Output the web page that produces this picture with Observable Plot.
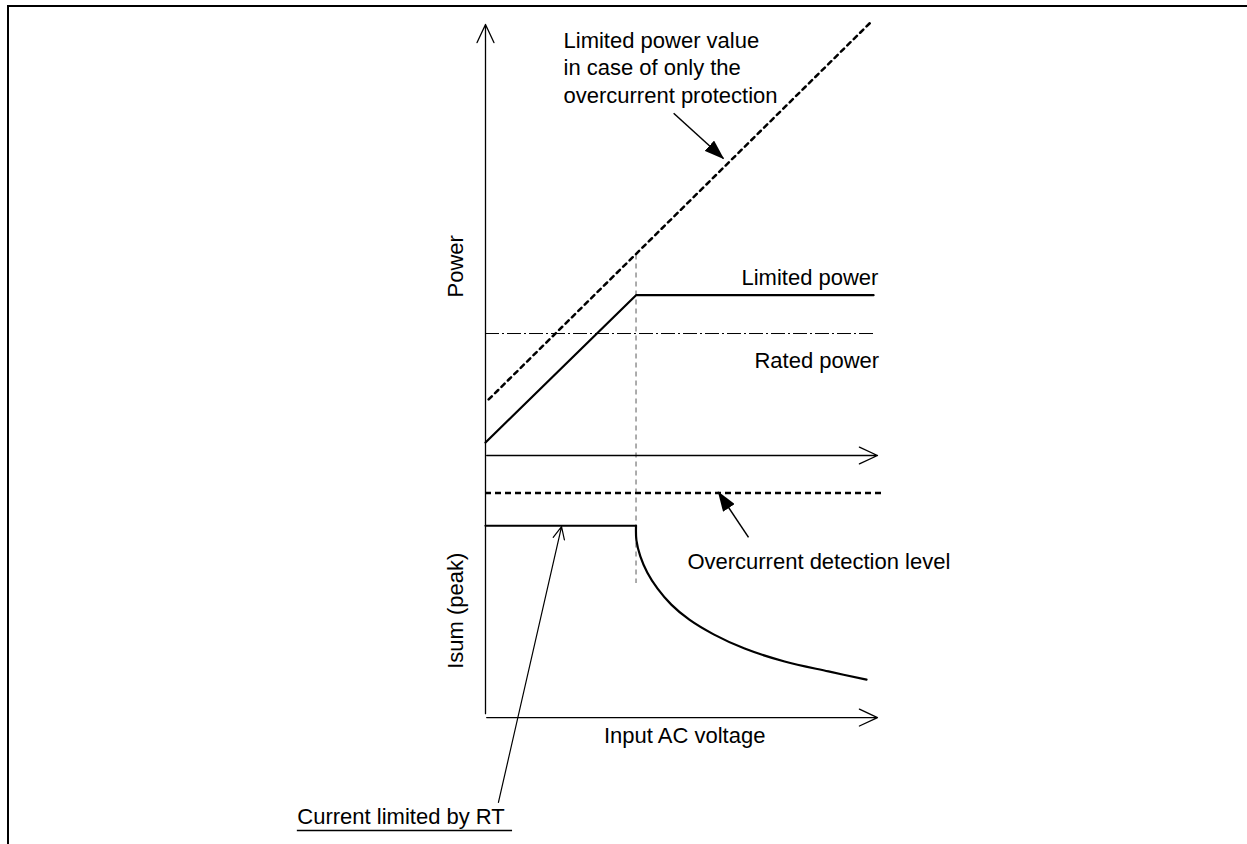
<!DOCTYPE html>
<html><head><meta charset="utf-8">
<script src="https://cdn.jsdelivr.net/npm/d3@7"></script>
<script src="https://cdn.jsdelivr.net/npm/@observablehq/plot@0.6"></script>
<style>
html,body{margin:0;padding:0;background:#fff;}
#wrap{position:relative;width:1247px;height:844px;overflow:hidden;background:#fff;}
#wrap svg{position:absolute;left:0;top:0;}
#frame{position:absolute;left:7px;top:5px;right:-10px;bottom:-10px;border-top:2px solid #000;border-left:2px solid #000;pointer-events:none;}
</style></head><body><div id="wrap"><div id="frame"></div></div>
<script>
// ---- data (schematic units: input voltage 0..100, power 0..100, Isum 0..) ----
const kneeVoltage = 38.4;
const limitedPower = [{v:0, p:3.0}, {v:38.4, p:37.2}, {v:99.0, p:37.2}];
const ratedPower = 28.3;
const ratedSpan = [0, 99.0];
const ocpOnlyPower = [{v:0.8, p:13.0}, {v:98.7, p:100.9}];
const isumFlat = [{v:0, i:44.5}, {v:38.4, i:44.5}];
const isumCurve = [
  {v:38.4, i:44.5}, {v:38.5, i:41.1}, {v:39.5, i:37.4}, {v:41.3, i:33.6},
  {v:43.9, i:29.9}, {v:47.4, i:26.2}, {v:52.0, i:22.7}, {v:58.2, i:19.3},
  {v:66.1, i:16.0}, {v:76.3, i:13.0}, {v:87.5, i:10.7}, {v:97.2, i:8.8}
];
const detectionLevel = 52.1;
const detectionSpan = [0, 101.3];
const kneeGuide = [46.5, -29.7];
const isumBase = -60.8; // Isum origin expressed on the power axis

const axesArrows = [
  {x1:0, y1:isumBase + 0.9, x2:0, y2:100},
  {x1:0.3, y1:0, x2:100, y2:0},
  {x1:0.3, y1:isumBase, x2:100, y2:isumBase}
];
const pointerArrows = [
  {x1:48.0, y1:79.4, x2:60.7, y2:68.9},
  {x1:67.1, y1:isumBase + 41.8, x2:59.4, y2:isumBase + 52.3}
];
const openPointer = [{x1:3.3, y1:isumBase - 19.7, x2:19.4, y2:isumBase + 44.3}];

const startLabels = [
  {text:"Limited power value\nin case of only the\novercurrent protection", v:19.9, p:90.3},
  {text:"Limited power", v:65.3, p:41.5},
  {text:"Rated power", v:68.6, p:22.4},
  {text:"Overcurrent detection level", v:51.5, p:isumBase + 36.5},
  {text:"Current limited by RT", v:-48.0, p:isumBase - 22.7}
];
const middleLabels = [{text:"Input AC voltage", v:50.8, p:isumBase - 4.2}];
const axisTitles = [
  {text:"Power", v:-7.65, p:43.9},
  {text:"Isum (peak)", v:-7.65, p:isumBase + 24.8}
];
const underline = {p:isumBase - 26.2, from:-48.0, to:6.9};

const font = "Liberation Sans, Arial, Helvetica, sans-serif";
const fs = 22;

const svg = Plot.plot({
  width:1247, height:844, margin:0,
  x:{domain:[0,100], range:[485,877], axis:null},
  y:{domain:[0,100], range:[455,24], axis:null},
  style:{background:"transparent", overflow:"visible"},
  marks:[
    Plot.ruleX([kneeVoltage], {y1:kneeGuide[0], y2:kneeGuide[1], stroke:"#808080", strokeWidth:1.3, strokeDasharray:"5,4"}),
    Plot.ruleY([ratedPower], {x1:ratedSpan[0], x2:ratedSpan[1], stroke:"#000", strokeWidth:1, strokeDasharray:"14,3,2,3"}),
    Plot.ruleY([isumBase + detectionLevel], {x1:detectionSpan[0], x2:detectionSpan[1], stroke:"#000", strokeWidth:2.5, strokeDasharray:"6,4"}),
    Plot.line(ocpOnlyPower, {x:"v", y:"p", stroke:"#000", strokeWidth:2.5, strokeDasharray:"4.5,4.5"}),
    Plot.line(limitedPower, {x:"v", y:"p", stroke:"#000", strokeWidth:2.2, strokeLinejoin:"miter"}),
    Plot.line(isumFlat.map(d => ({v:d.v, p:isumBase + d.i})), {x:"v", y:"p", stroke:"#000", strokeWidth:2.2}),
    Plot.line(isumCurve.map(d => ({v:d.v, p:isumBase + d.i})), {x:"v", y:"p", stroke:"#000", strokeWidth:2.2, curve:"catmull-rom"}),
    Plot.arrow(axesArrows, {x1:"x1", y1:"y1", x2:"x2", y2:"y2", stroke:"#000", strokeWidth:1.3, headAngle:50, headLength:23}),
    Plot.arrow(openPointer, {x1:"x1", y1:"y1", x2:"x2", y2:"y2", stroke:"#000", strokeWidth:1.2, headAngle:50, headLength:17}),
    Plot.link(pointerArrows, {x1:"x1", y1:"y1", x2:"x2", y2:"y2", stroke:"#010101", strokeWidth:1.5}),
    Plot.ruleY([underline.p], {x1:underline.from, x2:underline.to, stroke:"#000", strokeWidth:1.5}),
    Plot.text(startLabels, {x:"v", y:"p", text:"text", textAnchor:"start", lineAnchor:"middle", lineHeight:1.25, fontSize:fs, fontFamily:font, fill:"#000"}),
    Plot.text(middleLabels, {x:"v", y:"p", text:"text", textAnchor:"middle", fontSize:fs, fontFamily:font, fill:"#000"}),
    Plot.text(axisTitles, {x:"v", y:"p", text:"text", rotate:-90, textAnchor:"middle", fontSize:fs, fontFamily:font, fill:"#000"})
  ]
});

const ns = "http://www.w3.org/2000/svg";
const defs = document.createElementNS(ns, "defs");
const marker = document.createElementNS(ns, "marker");
marker.setAttribute("id", "fa");
marker.setAttribute("viewBox", "0 0 20 14");
marker.setAttribute("refX", "19");
marker.setAttribute("refY", "7");
marker.setAttribute("markerWidth", "20");
marker.setAttribute("markerHeight", "14");
marker.setAttribute("markerUnits", "userSpaceOnUse");
marker.setAttribute("orient", "auto");
const mp = document.createElementNS(ns, "path");
mp.setAttribute("d", "M0,0L20,7L0,14Z");
mp.setAttribute("fill", "#000");
marker.appendChild(mp);
defs.appendChild(marker);
svg.insertBefore(defs, svg.firstChild);
svg.querySelectorAll('[stroke="#010101"]').forEach(el => {
  const paths = el.tagName.toLowerCase() === "path" ? [el] : el.querySelectorAll("path");
  paths.forEach(p => p.setAttribute("marker-end", "url(#fa)"));
});

const wrap = document.getElementById("wrap");
wrap.insertBefore(svg, wrap.firstChild);
</script>
</body></html>
